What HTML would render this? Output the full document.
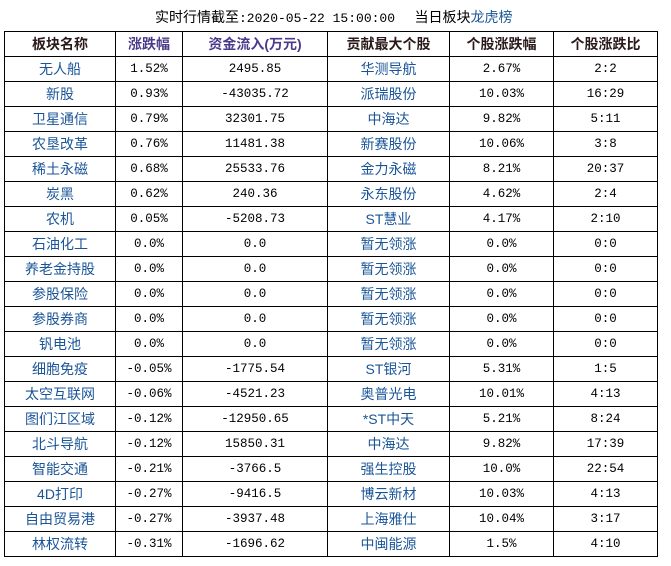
<!DOCTYPE html>
<html><head><meta charset="utf-8"><style>
body{margin:0;background:#fff;width:671px;height:566px;overflow:hidden;font-family:"Liberation Sans","Noto Sans CJK SC",sans-serif;}
.t{position:absolute;top:7px;left:155px;font-size:14px;color:#000;white-space:nowrap;}
.t .m{font-family:"Liberation Mono","Noto Sans CJK SC",monospace;font-size:13px}
.t a{color:#1a5598}
table{position:absolute;left:4px;top:31px;border-collapse:collapse;}
td,th{border:1px solid #000;height:24px;padding:0;text-align:center;font-size:14px;}
th{font-weight:bold;color:#2a1a1a;}
th.p{color:#4b3a8c}
td.n{color:#1a5598}
td.d{font-family:"Liberation Mono",monospace;font-size:12.5px;color:#000}
</style></head><body>
<div class="t">实时行情截至<span class="m">:2020-05-22 15:00:00</span>&nbsp;&nbsp;&nbsp;&nbsp;&nbsp;当日板块<a>龙虎榜</a></div>
<table>
<colgroup><col style="width:111px"><col style="width:67px"><col style="width:145px"><col style="width:122px"><col style="width:104px"><col style="width:104px"></colgroup>
<tr><th>板块名称</th><th class="p">涨跌幅</th><th class="p">资金流入(万元)</th><th>贡献最大个股</th><th>个股涨跌幅</th><th>个股涨跌比</th></tr>
<tr><td class="n">无人船</td><td class="d">1.52%</td><td class="d">2495.85</td><td class="n">华测导航</td><td class="d">2.67%</td><td class="d">2:2</td></tr>
<tr><td class="n">新股</td><td class="d">0.93%</td><td class="d">-43035.72</td><td class="n">派瑞股份</td><td class="d">10.03%</td><td class="d">16:29</td></tr>
<tr><td class="n">卫星通信</td><td class="d">0.79%</td><td class="d">32301.75</td><td class="n">中海达</td><td class="d">9.82%</td><td class="d">5:11</td></tr>
<tr><td class="n">农垦改革</td><td class="d">0.76%</td><td class="d">11481.38</td><td class="n">新赛股份</td><td class="d">10.06%</td><td class="d">3:8</td></tr>
<tr><td class="n">稀土永磁</td><td class="d">0.68%</td><td class="d">25533.76</td><td class="n">金力永磁</td><td class="d">8.21%</td><td class="d">20:37</td></tr>
<tr><td class="n">炭黑</td><td class="d">0.62%</td><td class="d">240.36</td><td class="n">永东股份</td><td class="d">4.62%</td><td class="d">2:4</td></tr>
<tr><td class="n">农机</td><td class="d">0.05%</td><td class="d">-5208.73</td><td class="n">ST慧业</td><td class="d">4.17%</td><td class="d">2:10</td></tr>
<tr><td class="n">石油化工</td><td class="d">0.0%</td><td class="d">0.0</td><td class="n">暂无领涨</td><td class="d">0.0%</td><td class="d">0:0</td></tr>
<tr><td class="n">养老金持股</td><td class="d">0.0%</td><td class="d">0.0</td><td class="n">暂无领涨</td><td class="d">0.0%</td><td class="d">0:0</td></tr>
<tr><td class="n">参股保险</td><td class="d">0.0%</td><td class="d">0.0</td><td class="n">暂无领涨</td><td class="d">0.0%</td><td class="d">0:0</td></tr>
<tr><td class="n">参股券商</td><td class="d">0.0%</td><td class="d">0.0</td><td class="n">暂无领涨</td><td class="d">0.0%</td><td class="d">0:0</td></tr>
<tr><td class="n">钒电池</td><td class="d">0.0%</td><td class="d">0.0</td><td class="n">暂无领涨</td><td class="d">0.0%</td><td class="d">0:0</td></tr>
<tr><td class="n">细胞免疫</td><td class="d">-0.05%</td><td class="d">-1775.54</td><td class="n">ST银河</td><td class="d">5.31%</td><td class="d">1:5</td></tr>
<tr><td class="n">太空互联网</td><td class="d">-0.06%</td><td class="d">-4521.23</td><td class="n">奥普光电</td><td class="d">10.01%</td><td class="d">4:13</td></tr>
<tr><td class="n">图们江区域</td><td class="d">-0.12%</td><td class="d">-12950.65</td><td class="n">*ST中天</td><td class="d">5.21%</td><td class="d">8:24</td></tr>
<tr><td class="n">北斗导航</td><td class="d">-0.12%</td><td class="d">15850.31</td><td class="n">中海达</td><td class="d">9.82%</td><td class="d">17:39</td></tr>
<tr><td class="n">智能交通</td><td class="d">-0.21%</td><td class="d">-3766.5</td><td class="n">强生控股</td><td class="d">10.0%</td><td class="d">22:54</td></tr>
<tr><td class="n">4D打印</td><td class="d">-0.27%</td><td class="d">-9416.5</td><td class="n">博云新材</td><td class="d">10.03%</td><td class="d">4:13</td></tr>
<tr><td class="n">自由贸易港</td><td class="d">-0.27%</td><td class="d">-3937.48</td><td class="n">上海雅仕</td><td class="d">10.04%</td><td class="d">3:17</td></tr>
<tr><td class="n">林权流转</td><td class="d">-0.31%</td><td class="d">-1696.62</td><td class="n">中闽能源</td><td class="d">1.5%</td><td class="d">4:10</td></tr>
</table>
</body></html>
